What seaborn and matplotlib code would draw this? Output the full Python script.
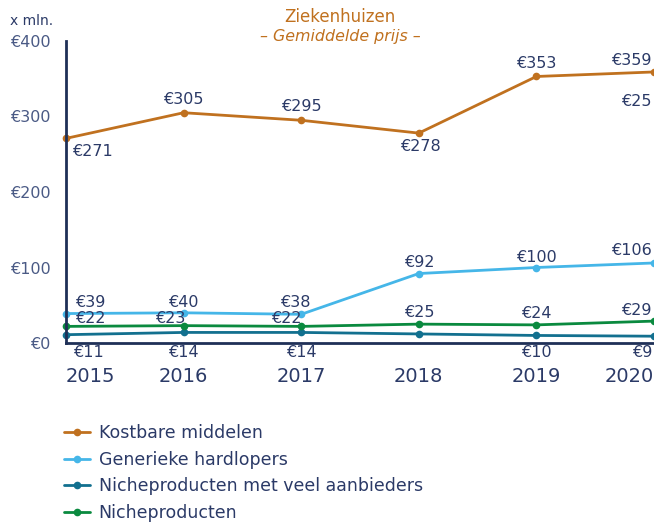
import pandas as pd
import seaborn as sns
import matplotlib.pyplot as plt
from matplotlib.lines import Line2D

# data
jaren = [2015, 2016, 2017, 2018, 2019, 2020]
reeksen = ['Kostbare middelen', 'Generieke hardlopers',
           'Nicheproducten met veel aanbieders', 'Nicheproducten']
kostbaar = [271, 305, 295, 278, 353, 359]
generiek = [39, 40, 38, 92, 100, 106]
veel_aanbieders = [11, 14, 14, 12, 10, 9]
niche = [22, 23, 22, 25, 24, 29]
y_ticks = [0, 100, 200, 300, 400]

kleuren = ['#C0711F', '#45B6E8', '#12708F', '#0A8A3F']
navy = '#2B3A67'

df = pd.DataFrame({
    'jaar': jaren * 4,
    'waarde': kostbaar + generiek + veel_aanbieders + niche,
    'reeks': sum([[r] * len(jaren) for r in reeksen], []),
})

sns.set_style('white')
plt.rcParams['font.family'] = ['DejaVu Sans']

fig = plt.figure(figsize=(6.54, 5.22), dpi=100)
ax = fig.add_axes([66 / 654, 179 / 522, 588 / 654, 302 / 522])

sns.lineplot(data=df, x='jaar', y='waarde', hue='reeks', hue_order=reeksen,
             palette=kleuren, marker='o', markersize=5.5, markeredgewidth=0,
             linewidth=2, legend=False, ax=ax, clip_on=False)

ax.set_xlim(2015, 2020)
ax.set_ylim(0, 400)
ax.set_xlabel('')
ax.set_ylabel('')
ax.set_yticks(y_ticks)
ax.set_yticklabels(['€' + str(t) for t in y_ticks], color='#4A5A85', fontsize=11.5)
ax.set_xticks(jaren)
ax.set_xticklabels([str(j) for j in jaren], color=navy, fontsize=14)
ax.get_xticklabels()[0].set_horizontalalignment('left')
ax.get_xticklabels()[-1].set_horizontalalignment('right')
ax.tick_params(axis='y', length=0, pad=11)
ax.tick_params(axis='x', length=0, pad=17)
for s in ['top', 'right']:
    ax.spines[s].set_visible(False)
ax.spines['left'].set_color('#1F3057')
ax.spines['left'].set_linewidth(2)
ax.spines['bottom'].set_color('#1F3057')
ax.spines['bottom'].set_linewidth(2)

# waardelabels: (dx, dy, ha) in pixels
offsets = {
    'Kostbare middelen': [(26, -6, 'center'), (0, 6, 'center'), (0, 6, 'center'),
                          (2, -6, 'center'), (0, 5, 'center'), (-2, 4, 'right')],
    'Generieke hardlopers': [(24, 4, 'center'), (0, 3, 'center'), (-6, 4, 'center'),
                             (0, 4, 'center'), (0, 3, 'center'), (-2, 5, 'right')],
    'Nicheproducten met veel aanbieders': [(22, -10, 'center'), (0, -13, 'center'),
                                           (0, -13, 'center'), None,
                                           (0, -10, 'center'), (-2, -9, 'right')],
    'Nicheproducten': [(24, 0.1, 'center'), (-13, 0.1, 'center'), (-15, 0.1, 'center'),
                       (0, 4, 'center'), (0, 4, 'center'), (-2, 3, 'right')],
}
waarden = dict(zip(reeksen, [kostbaar, generiek, veel_aanbieders, niche]))
for r in reeksen:
    for j, v, off in zip(jaren, waarden[r], offsets[r]):
        if off is None:
            continue
        dx, dy, ha = off
        va = 'bottom' if dy > 0 else 'top'
        ax.annotate('€' + str(v), (j, v), xytext=(dx, dy), textcoords='offset pixels',
                    ha=ha, va=va, color=navy, fontsize=11.5, annotation_clip=False)

# losse label rechtsboven
ax.annotate('€25', (2020, kostbaar[-1]), xytext=(-2, -22), textcoords='offset pixels',
            ha='right', va='top', color=navy, fontsize=11.5, annotation_clip=False)

fig.text(10 / 654, 1 - 21 / 522, 'x mln.', color=navy, fontsize=10, va='center')
fig.text(340 / 654, 1 - 17 / 522, 'Ziekenhuizen', color='#C0711F', fontsize=12,
         ha='center', va='center')
fig.text(340 / 654, 1 - 37 / 522, '– Gemiddelde prijs –', color='#C0711F',
         fontsize=11.4, ha='center', va='center', style='italic')

handles = [Line2D([], [], color=c, marker='o', markersize=5.5, markeredgewidth=0,
                  linewidth=2) for c in kleuren]
fig.legend(handles, reeksen, loc='upper left', bbox_to_anchor=(64 / 654, 1 - 424 / 522),
           frameon=False, fontsize=12.5, labelcolor=navy, handlelength=1.5,
           handletextpad=0.5, labelspacing=0.5, borderpad=0, borderaxespad=0)

plt.savefig('out.png', dpi=100)
